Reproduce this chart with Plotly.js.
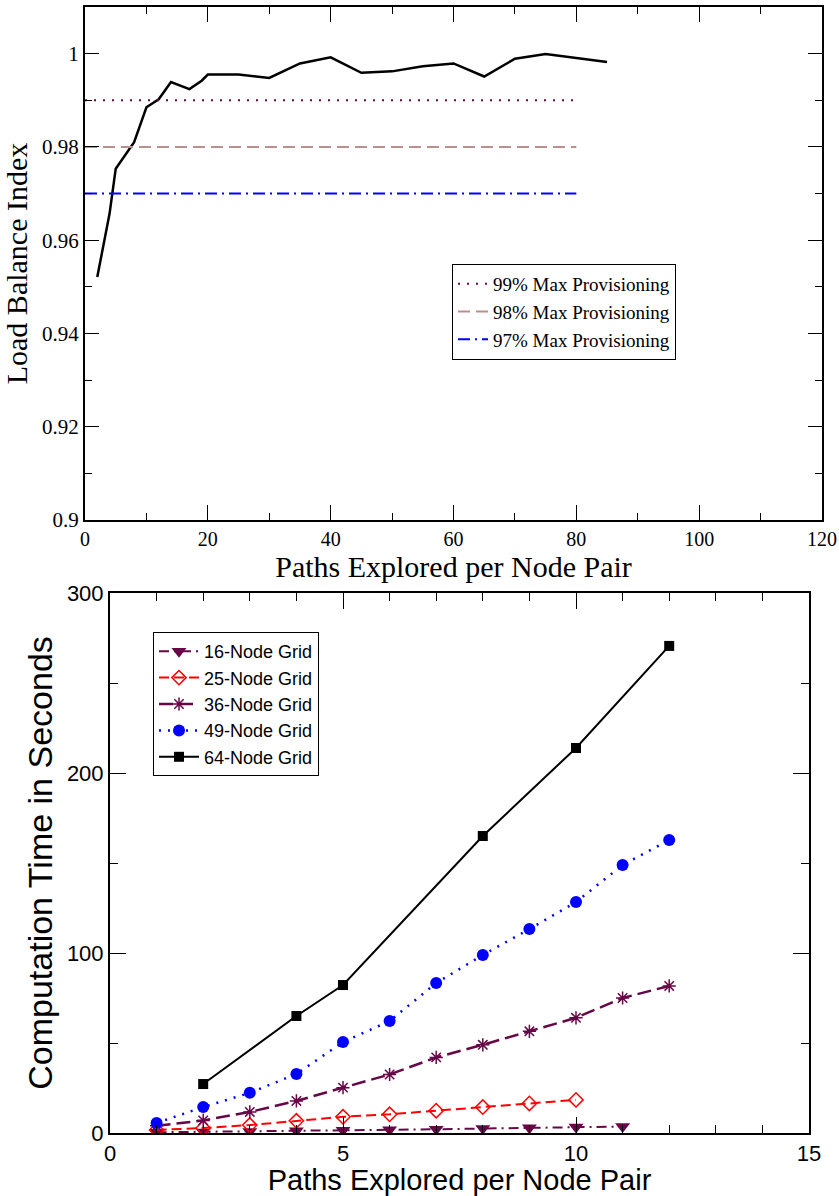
<!DOCTYPE html>
<html>
<head>
<meta charset="utf-8">
<script src="https://cdn.plot.ly/plotly-3.0.1.min.js"></script>
<style>html,body{margin:0;padding:0;background:#fff}#chart{width:839px;height:1196px}</style>
</head>
<body>
<div id="chart"></div>
<script>
// ---- Top chart data ----
const lbX = [2, 4, 5, 8, 10, 12, 14, 17, 19, 20, 25, 30, 35, 40, 45, 50, 55, 60, 65, 70, 75, 80, 85];
const lbY = [0.9521, 0.9657, 0.9753, 0.9810, 0.9885, 0.9902, 0.9939, 0.9924, 0.9942, 0.9955, 0.9955, 0.9948, 0.9979, 0.9992, 0.9959, 0.9962, 0.9973, 0.9979, 0.9951, 0.9989, 0.9999, 0.9991, 0.9982];
const provX = [0, 80];
const prov99 = [0.99, 0.99];
const prov98 = [0.98, 0.98];
const prov97 = [0.97, 0.97];
const provNames = ["99% Max Provisioning", "98% Max Provisioning", "97% Max Provisioning"];
const topXTicks = [0, 20, 40, 60, 80, 100, 120];
const topYTicks = [0.9, 0.92, 0.94, 0.96, 0.98, 1];
const topYLabels = ["0.9", "0.92", "0.94", "0.96", "0.98", "1"];

// ---- Bottom chart data ----
const g16X = [1, 2, 3, 4, 5, 6, 7, 8, 9, 10, 11];
const g16Y = [0.4, 0.6, 0.9, 1.2, 1.5, 1.8, 2.1, 2.5, 2.9, 3.3, 3.6];
const g25X = [1, 2, 3, 4, 5, 6, 7, 8, 9, 10];
const g25Y = [1.7, 2.8, 4.4, 6.8, 9.0, 10.4, 12.4, 14.4, 16.4, 18.4];
const g36X = [1, 2, 3, 4, 5, 6, 7, 8, 9, 10, 11, 12];
const g36Y = [4, 7, 11.7, 17.8, 25.2, 32.5, 42, 49, 56.5, 64, 75, 81.7];
const g49X = [1, 2, 3, 4, 5, 6, 7, 8, 9, 10, 11, 12];
const g49Y = [5.6, 14.4, 22.3, 32.8, 50.5, 62.2, 83.3, 98.9, 113.3, 128.3, 148.9, 162.8];
const g64X = [2, 4, 5, 8, 10, 12];
const g64Y = [27.2, 65, 82.2, 165, 213.9, 270.6];
const gridNames = ["16-Node Grid", "25-Node Grid", "36-Node Grid", "49-Node Grid", "64-Node Grid"];

const maroon = "rgb(103,7,72)";
const serif = "'Liberation Serif', 'Times New Roman', serif";
const sans = "'Liberation Sans', Arial, Helvetica, sans-serif";

const traces = [
  {x: lbX, y: lbY, xaxis: "x", yaxis: "y", mode: "lines", line: {color: "#000", width: 2.5}, showlegend: false, hoverinfo: "skip"},
  {x: provX, y: prov99, xaxis: "x", yaxis: "y", mode: "lines", name: provNames[0], line: {color: maroon, width: 2, dash: "2px,7px"}, legend: "legend"},
  {x: provX, y: prov98, xaxis: "x", yaxis: "y", mode: "lines", name: provNames[1], line: {color: "rgb(188,143,143)", width: 2, dash: "12px,6px"}, legend: "legend"},
  {x: provX, y: prov97, xaxis: "x", yaxis: "y", mode: "lines", name: provNames[2], line: {color: "#0000ff", width: 2, dash: "12px,5px,2px,5px"}, legend: "legend"},

  {x: g16X, y: g16Y, xaxis: "x2", yaxis: "y2", mode: "lines+markers", name: gridNames[0], legend: "legend2",
   line: {color: maroon, width: 2, dash: "10px,5px,2px,5px"}, marker: {symbol: "triangle-down", size: 13, color: maroon}},
  {x: g25X, y: g25Y, xaxis: "x2", yaxis: "y2", mode: "lines+markers", name: gridNames[1], legend: "legend2",
   line: {color: "#ff0000", width: 2, dash: "10px,5px"}, marker: {symbol: "diamond-open", size: 11, color: "#ff0000", line: {width: 1.5}}},
  {x: g36X, y: g36Y, xaxis: "x2", yaxis: "y2", mode: "lines+markers", name: gridNames[2], legend: "legend2",
   line: {color: maroon, width: 2.5, dash: "14px,6px"}, marker: {symbol: "asterisk-open", size: 11, color: maroon, line: {width: 1.5, color: maroon}}},
  {x: g49X, y: g49Y, xaxis: "x2", yaxis: "y2", mode: "lines+markers", name: gridNames[3], legend: "legend2",
   line: {color: "#0000ff", width: 2.5, dash: "2px,7px"}, marker: {symbol: "circle", size: 12, color: "#0000ff"}},
  {x: g64X, y: g64Y, xaxis: "x2", yaxis: "y2", mode: "lines+markers", name: gridNames[4], legend: "legend2",
   line: {color: "#000", width: 2}, marker: {symbol: "square", size: 10, color: "#000"}}
];

const layout = {
  width: 839, height: 1196,
  margin: {l: 0, r: 0, t: 0, b: 0},
  paper_bgcolor: "#fff", plot_bgcolor: "#fff",
  showlegend: true,
  xaxis: {
    domain: [85/839, 822/839], anchor: "y", range: [0, 120],
    tickmode: "array", tickvals: topXTicks, ticks: "inside", ticklen: 15, tickwidth: 1, tickcolor: "#000",
    minor: {dtick: 10, ticks: "inside", ticklen: 7, tickcolor: "#000"},
    showline: true, linecolor: "#000", linewidth: 2, mirror: "ticks", showgrid: false, zeroline: false,
    tickfont: {family: serif, size: 20, color: "#000"},
    title: {text: "Paths Explored per Node Pair", font: {family: serif, size: 30, color: "#000"}, standoff: 0}
  },
  yaxis: {
    domain: [1 - 520/1196, 1 - 7/1196], anchor: "x", range: [0.9, 1.01],
    tickmode: "array", tickvals: topYTicks, ticktext: topYLabels, ticks: "inside", ticklen: 14, tickwidth: 1, tickcolor: "#000",
    minor: {dtick: 0.01, tick0: 0.9, ticks: "inside", ticklen: 7, tickcolor: "#000"},
    showline: true, linecolor: "#000", linewidth: 2, mirror: "ticks", showgrid: false, zeroline: false,
    tickfont: {family: serif, size: 21, color: "#000"},
    title: {text: "Load Balance Index", font: {family: serif, size: 30, color: "#000"}, standoff: 8}
  },
  xaxis2: {
    domain: [110/839, 809/839], anchor: "y2", range: [0, 15],
    tickmode: "linear", tick0: 0, dtick: 5, ticks: "inside", ticklen: 16, tickwidth: 1, tickcolor: "#000",
    minor: {dtick: 1, ticks: "inside", ticklen: 8, tickcolor: "#000"},
    showline: true, linecolor: "#000", linewidth: 2, mirror: "ticks", showgrid: false, zeroline: false,
    tickfont: {family: sans, size: 22, color: "#000"},
    title: {text: "Paths Explored per Node Pair", font: {family: sans, size: 29, color: "#000"}, standoff: 3}
  },
  yaxis2: {
    domain: [1 - 1133/1196, 1 - 593/1196], anchor: "x2", range: [0, 300],
    tickmode: "linear", tick0: 0, dtick: 100, ticks: "inside", ticklen: 16, tickwidth: 1, tickcolor: "#000",
    minor: {dtick: 50, ticks: "inside", ticklen: 8, tickcolor: "#000"},
    showline: true, linecolor: "#000", linewidth: 2, mirror: "ticks", showgrid: false, zeroline: false,
    tickfont: {family: sans, size: 22, color: "#000"},
    title: {text: "Computation Time in Seconds", font: {family: sans, size: 34, color: "#000"}, standoff: 4}
  },
  legend: {
    x: 452/839, y: 1 - 264/1196, xanchor: "left", yanchor: "top",
    bgcolor: "#fff", bordercolor: "#000", borderwidth: 1,
    font: {family: serif, size: 19, color: "#000"}, tracegroupgap: 0, itemwidth: 30
  },
  legend2: {
    x: 153/839, y: 1 - 632/1196, xanchor: "left", yanchor: "top",
    bgcolor: "#fff", bordercolor: "#000", borderwidth: 1,
    font: {family: sans, size: 18, color: "#000"}, tracegroupgap: 0, itemwidth: 40
  }
};

Plotly.newPlot("chart", traces, layout, {displayModeBar: false, staticPlot: true});
</script>
</body>
</html>
